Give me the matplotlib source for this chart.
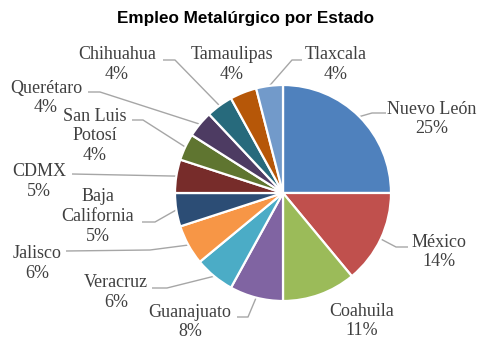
import matplotlib
matplotlib.use('Agg')
import matplotlib.pyplot as plt
import numpy as np

# ---- data ----
states = ['Nuevo León', 'México', 'Coahuila', 'Guanajuato', 'Veracruz', 'Jalisco',
          'Baja\nCalifornia', 'CDMX', 'San Luis\nPotosí', 'Querétaro', 'Chihuahua',
          'Tamaulipas', 'Tlaxcala']
shares = [25, 14, 11, 8, 6, 6, 5, 5, 4, 4, 4, 4, 4]
title = 'Empleo Metalúrgico por Estado'

# ---- styles / layout ----
colors = ['#4F81BD', '#C0504D', '#9BBB59', '#8064A2', '#4BACC6', '#F79646',
          '#2C4D75', '#772C2A', '#5F7530', '#4D3B62', '#276A7C', '#B65708', '#729ACA']
# label block centers (pixel coords, y from top)
label_pos = [(432, 119), (439, 252), (362, 321), (190, 322), (116, 292.5), (37, 263.5),
             (98, 216.5), (39, 181.5), (95, 136), (46, 98), (117, 64.5), (232, 64.5), (336, 64.5)]
# leader lines: (end near label, elbow) in pixel coords, None = no line
leaders = [((386, 113), (372, 113)), ((408, 247), (396, 247)), None, ((237, 317), (248, 317)),
           ((152, 288), (167, 288)), ((66, 251), (150, 250)), ((142, 222), (155, 222)),
           ((72, 174), (72, 174)), ((132, 120), (143, 120)), ((88, 92), (100, 92)),
           ((163, 60), (175, 60)), None, ((302, 60), (292, 60))]

W, H = 480, 341
fig = plt.figure(figsize=(4.8, 3.41), dpi=100)
ax = fig.add_axes([0, 0, 1, 1])
cx, cy, R = 283, H - 193, 108
wedges, _ = ax.pie(shares, colors=colors, startangle=90, counterclock=False,
                   center=(cx, cy), radius=R, frame=True,
                   wedgeprops=dict(edgecolor='white', linewidth=1.6))
ax.set_aspect('auto')
ax.set_xlim(0, W)
ax.set_ylim(0, H)
ax.axis('off')

txt_color = '#404040'
line_color = '#A6A6A6'
for w, name, v, (lx, ly), ld in zip(wedges, states, shares, label_pos, leaders):
    ax.text(lx, H - ly, f'{name}\n{v}%', ha='center', va='center', fontsize=13,
            family='Liberation Serif', color=txt_color, linespacing=1.22)
    if ld is not None:
        th = np.deg2rad((w.theta1 + w.theta2) / 2)
        px, py = cx + R * 1.0 * np.cos(th), cy + R * 1.0 * np.sin(th)
        (ex, ey), (bx, by) = ld
        ax.plot([ex, bx, px], [H - ey, H - by, py], color=line_color, lw=1.0,
                solid_capstyle='butt', zorder=0)

fig.text(246 / W, 1 - 18 / H, title, ha='center', va='center', fontsize=12.3,
         fontweight='bold', family='Liberation Sans', color='black')

fig.savefig('out.png', dpi=100, facecolor='white')
